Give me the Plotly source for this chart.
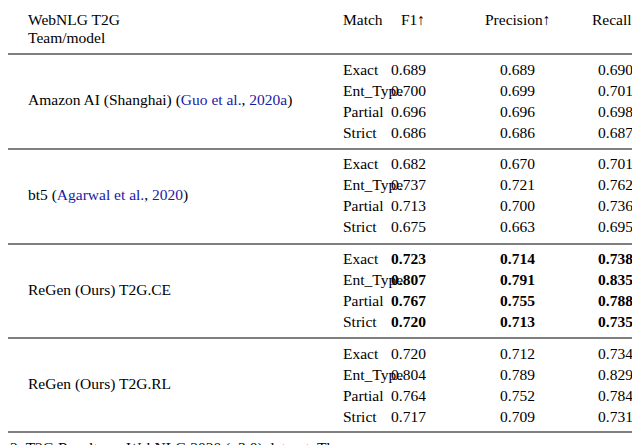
import plotly.graph_objects as go

BLUE = "#1a1aa6"

teams = [
    "Amazon AI (Shanghai) (<span style='color:%s'>Guo et al.</span>, <span style='color:%s'>2020a</span>)" % (BLUE, BLUE),
    "bt5 (<span style='color:%s'>Agarwal et al.</span>, <span style='color:%s'>2020</span>)" % (BLUE, BLUE),
    "ReGen (Ours) T2G.CE",
    "ReGen (Ours) T2G.RL",
]
matches = ["Exact", "Ent_Type", "Partial", "Strict"]
f1 = [
    [0.689, 0.700, 0.696, 0.686],
    [0.682, 0.737, 0.713, 0.675],
    [0.723, 0.807, 0.767, 0.720],
    [0.720, 0.804, 0.764, 0.717],
]
precision = [
    [0.689, 0.699, 0.696, 0.686],
    [0.670, 0.721, 0.700, 0.663],
    [0.714, 0.791, 0.755, 0.713],
    [0.712, 0.789, 0.752, 0.709],
]
recall = [
    [0.690, 0.701, 0.698, 0.687],
    [0.701, 0.762, 0.736, 0.695],
    [0.738, 0.835, 0.788, 0.735],
    [0.734, 0.829, 0.784, 0.731],
]
bold_group = 2

FONT = dict(family="Liberation Serif, Times New Roman, serif", size=15.5, color="black")

fig = go.Figure()


def text(x, y, s, anchor="left"):
    fig.add_annotation(x=x, y=y, xref="x", yref="y", text=s, showarrow=False,
                       xanchor=anchor, yanchor="middle", font=FONT)


text(18, 11, "WebNLG T2G")
text(18, 29, "Team/model")
text(333, 11, "Match")
text(419, 11, "F1↑", "right")
text(509, 11, "Precision↑", "center")
text(607, 11, "Recall↑", "center")

for g in range(4):
    y0 = 61 + g * 94.8
    text(18, y0 + 31, teams[g])
    for i, m in enumerate(matches):
        y = y0 + i * 21
        text(333, y, m)
        for x, arr in ((400, f1), (509, precision), (607, recall)):
            v = "%.3f" % arr[g][i]
            if g == bold_group:
                v = "<b>%s</b>" % v
            text(x, y, v, "center")

for y in (46, 141, 236, 330, 424):
    fig.add_shape(type="line", x0=0, x1=640, y0=y, y1=y, line=dict(color="black", width=1))

text(0, 440, "2: T2G Results on WebNLG 2020 (v3.0) dataset. The ...")

fig.update_layout(
    width=640, height=445, margin=dict(l=0, r=0, t=0, b=0, autoexpand=False),
    plot_bgcolor="white", paper_bgcolor="white",
    xaxis=dict(range=[0, 640], visible=False, fixedrange=True),
    yaxis=dict(range=[445, 0], visible=False, fixedrange=True),
)
fig.write_html("out.html")
